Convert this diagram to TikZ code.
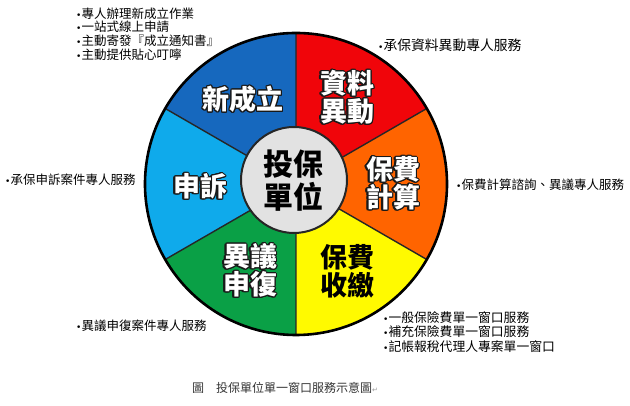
\documentclass[tikz,border=0pt]{standalone}
\usepackage{fontspec}
\usepackage{contour}
\setmainfont{Noto Sans CJK TC}
\newfontfamily\markfont{DejaVu Sans}

\definecolor{dblue}{RGB}{22,104,190}
\definecolor{sred}{RGB}{240,5,10}
\definecolor{sorange}{RGB}{255,100,0}
\definecolor{syellow}{RGB}{255,250,0}
\definecolor{sgreen}{RGB}{10,160,70}
\definecolor{lblue}{RGB}{15,170,235}
\definecolor{hubgrey}{RGB}{226,226,226}

% white letters with a dark rim
\contourlength{1.2pt}
\newcommand{\whiteout}[1]{\contour{black!90}{\textcolor{white}{#1}}}
\newcommand{\dotmark}{{\markfont\fontsize{9}{9}\selectfont •}}

\tikzset{
  lbl/.style={font=\bfseries\fontsize{27}{28}\selectfont, align=center, inner sep=0pt},
  hub/.style={font=\bfseries\fontsize{30}{33}\selectfont, align=center, inner sep=0pt},
  note/.style={font=\fontsize{12.5}{13.8}\selectfont, align=left, anchor=west, inner sep=0pt},
  sep/.style={line width=1.4pt, black!85}
}

\begin{document}
\begin{tikzpicture}[x=1pt,y=1pt]
\useasboundingbox (0,0) rectangle (630,406);

\coordinate (c) at (296,222);

\fill[sred]    (c) -- ++(30:151pt)  arc[start angle=30,  end angle=90,  radius=151pt] -- cycle;
\fill[dblue]   (c) -- ++(90:151pt)  arc[start angle=90,  end angle=150, radius=151pt] -- cycle;
\fill[lblue]   (c) -- ++(150:151pt) arc[start angle=150, end angle=210, radius=151pt] -- cycle;
\fill[sgreen]  (c) -- ++(210:151pt) arc[start angle=210, end angle=270, radius=151pt] -- cycle;
\fill[syellow] (c) -- ++(270:151pt) arc[start angle=270, end angle=330, radius=151pt] -- cycle;
\fill[sorange] (c) -- ++(330:151pt) arc[start angle=330, end angle=390, radius=151pt] -- cycle;

\draw[sep] (c) -- ++(30:151pt)   (c) -- ++(90:151pt)   (c) -- ++(150:151pt)
           (c) -- ++(210:151pt)  (c) -- ++(270:151pt)  (c) -- ++(330:151pt);
\draw[line width=2.6pt] (c) circle[radius=151pt];

\draw[fill=hubgrey, line width=2pt, draw=black!85] (294,226) circle[radius=53pt];

\draw (293,225) node[hub] (tb) {投保\\單位} ;

\draw (243,306) node[lbl] (xcl) {\whiteout{新成立}} ;
\draw (347,308) node[lbl] (zl) {\whiteout{資料}\\\whiteout{異動}} ;
\draw (393,222) node[lbl] (js) {\whiteout{保費}\\\whiteout{計算}} ;
\draw (347,135) node[lbl] (sj) {保費\\收繳} ;
\draw (250,135) node[lbl] (yy) {\whiteout{異議}\\\whiteout{申復}} ;
\draw (200,219) node[lbl] (ss) {\whiteout{申訴}} ;

\draw (76,372) node[note] (nxcl) {\dotmark 專人辦理新成立作業\\\dotmark 一站式線上申請\\\dotmark 主動寄發『成立通知書』\\\dotmark 主動提供貼心叮嚀} ;
\draw (378,361) node[note, font=\fontsize{13.8}{15}\selectfont] (nzl) {\dotmark 承保資料異動專人服務} ;
\draw (456,221) node[note] (njs) {\dotmark 保費計算諮詢、異議專人服務} ;
\draw (383,74) node[note, font=\fontsize{12.8}{14.6}\selectfont] (nsj) {\dotmark 一般保險費單一窗口服務\\\dotmark 補充保險費單一窗口服務\\\dotmark 記帳報稅代理人專案單一窗口} ;
\draw (76,80) node[note] (nyy) {\dotmark 異議申復案件專人服務} ;
\draw (5,226) node[note] (nss) {\dotmark 承保申訴案件專人服務} ;

\draw (192,18) node[anchor=west, inner sep=0pt, font=\fontsize{12}{13}\selectfont, black!80] (cap)
  {圖\hspace{1em}投保單位單一窗口服務示意圖{\markfont\color{black!40}\fontsize{7}{8}\selectfont ↵}} ;

\end{tikzpicture}
\end{document}
